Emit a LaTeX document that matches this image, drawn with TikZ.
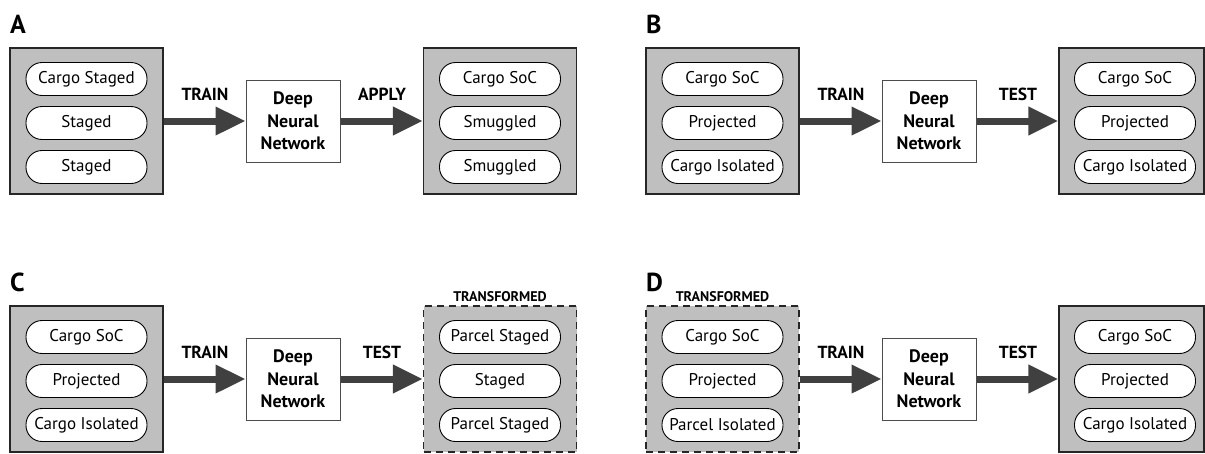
\documentclass[tikz,border=0pt]{standalone}
\usepackage{fontspec}
\setmainfont{PT Sans}
\usepackage{tikz}
\usetikzlibrary{positioning}
\usetikzlibrary{arrows.meta}

\definecolor{boxgray}{HTML}{BFBFBF}
\definecolor{arrowgray}{HTML}{404040}

\tikzset{
  panelbox/.style={draw=black!85, line width=1.3pt, fill=boxgray, minimum width=153pt, minimum height=146pt, inner sep=0pt},
  transbox/.style={panelbox, dash pattern=on 7pt off 5pt},
  pill/.style={draw=black, line width=0.9pt, fill=white, rounded corners=16pt, minimum width=121pt, minimum height=33pt, inner sep=0pt, font=\fontsize{17}{19}\selectfont},
  dnn/.style={draw=black!70, line width=1pt, fill=white, minimum width=94pt, minimum height=82pt, align=center, inner sep=0pt, font=\fontsize{18}{22.5}\selectfont\bfseries},
  flow/.style={draw=arrowgray, line width=7pt, -{Triangle[length=30pt,width=27pt]}},
  steplabel/.style={font=\fontsize{17.5}{19}\selectfont\bfseries},
  panelletter/.style={font=\fontsize{26}{28}\selectfont\bfseries, anchor=west, inner sep=0pt},
  translabel/.style={font=\fontsize{14}{15}\selectfont\bfseries, anchor=south, inner sep=3pt},
}

\begin{document}
\begin{tikzpicture}[x=1pt,y=-1pt]

\useasboundingbox (0,0) rectangle (1205,453);

% panel A
\begin{scope}[name prefix=A-]
\node[panelletter] (letter) at (10,24) {A};
\node[panelbox] (in) at (86.5,121) {};
\node[pill] (in1) at (86.5,79) {Cargo Staged};
\node[pill] (in2) at (86.5,123) {Staged};
\node[pill] (in3) at (86.5,167) {Staged};

\node[dnn] (dnn) at (293,121) {Deep\\Neural\\Network};

\node[panelbox] (out) at (500,121) {};
\node[pill] (out1) at (500,79) {Cargo SoC};
\node[pill] (out2) at (500,123) {Smuggled};
\node[pill] (out3) at (500,167) {Smuggled};

\draw[flow] (in.east) -- (dnn.west);
\draw[flow] (dnn.east) -- (out.west);
\node[steplabel] (train) at (205,94) {TRAIN};
\node[steplabel] (apply) at (382,94) {APPLY};
\end{scope}

% panel B
\begin{scope}[name prefix=B-, xshift=636pt]
\node[panelletter] (letter) at (10,24) {B};
\node[panelbox] (in) at (86.5,121) {};
\node[pill] (in1) at (86.5,79) {Cargo SoC};
\node[pill] (in2) at (86.5,123) {Projected};
\node[pill] (in3) at (86.5,167) {Cargo Isolated};

\node[dnn] (dnn) at (293,121) {Deep\\Neural\\Network};

\node[panelbox, minimum width=145pt] (out) at (495.5,121) {};
\node[pill] (out1) at (499,79) {Cargo SoC};
\node[pill] (out2) at (499,123) {Projected};
\node[pill] (out3) at (499,167) {Cargo Isolated};

\draw[flow] (in.east) -- (dnn.west);
\draw[flow] (dnn.east) -- (out.west);
\node[steplabel] (train) at (205,94) {TRAIN};
\node[steplabel] (test) at (382,94) {TEST};
\end{scope}

% panel C
\begin{scope}[name prefix=C-, yshift=-258pt]
\node[panelletter] (letter) at (10,24) {C};
\node[panelbox] (in) at (86.5,121) {};
\node[pill] (in1) at (86.5,79) {Cargo SoC};
\node[pill] (in2) at (86.5,123) {Projected};
\node[pill] (in3) at (86.5,167) {Cargo Isolated};

\node[dnn] (dnn) at (293,121) {Deep\\Neural\\Network};

\node[transbox] (out) at (500,121) {};
\node[translabel] (tlabel) at (out.north) {TRANSFORMED};
\node[pill] (out1) at (500,79) {Parcel Staged};
\node[pill] (out2) at (500,123) {Staged};
\node[pill] (out3) at (500,167) {Parcel Staged};

\draw[flow] (in.east) -- (dnn.west);
\draw[flow] (dnn.east) -- (out.west);
\node[steplabel] (train) at (205,94) {TRAIN};
\node[steplabel] (test) at (382,94) {TEST};
\end{scope}

% panel D
\begin{scope}[name prefix=D-, xshift=636pt, yshift=-258pt]
\node[panelletter] (letter) at (10,24) {D};
\node[transbox] (in) at (86.5,121) {};
\node[translabel] (tlabel) at (in.north) {TRANSFORMED};
\node[pill] (in1) at (86.5,79) {Cargo SoC};
\node[pill] (in2) at (86.5,123) {Projected};
\node[pill] (in3) at (86.5,167) {Parcel Isolated};

\node[dnn] (dnn) at (293,121) {Deep\\Neural\\Network};

\node[panelbox, minimum width=145pt] (out) at (495.5,121) {};
\node[pill] (out1) at (499,79) {Cargo SoC};
\node[pill] (out2) at (499,123) {Projected};
\node[pill] (out3) at (499,167) {Cargo Isolated};

\draw[flow] (in.east) -- (dnn.west);
\draw[flow] (dnn.east) -- (out.west);
\node[steplabel] (train) at (205,94) {TRAIN};
\node[steplabel] (test) at (382,94) {TEST};
\end{scope}

\end{tikzpicture}
\end{document}
